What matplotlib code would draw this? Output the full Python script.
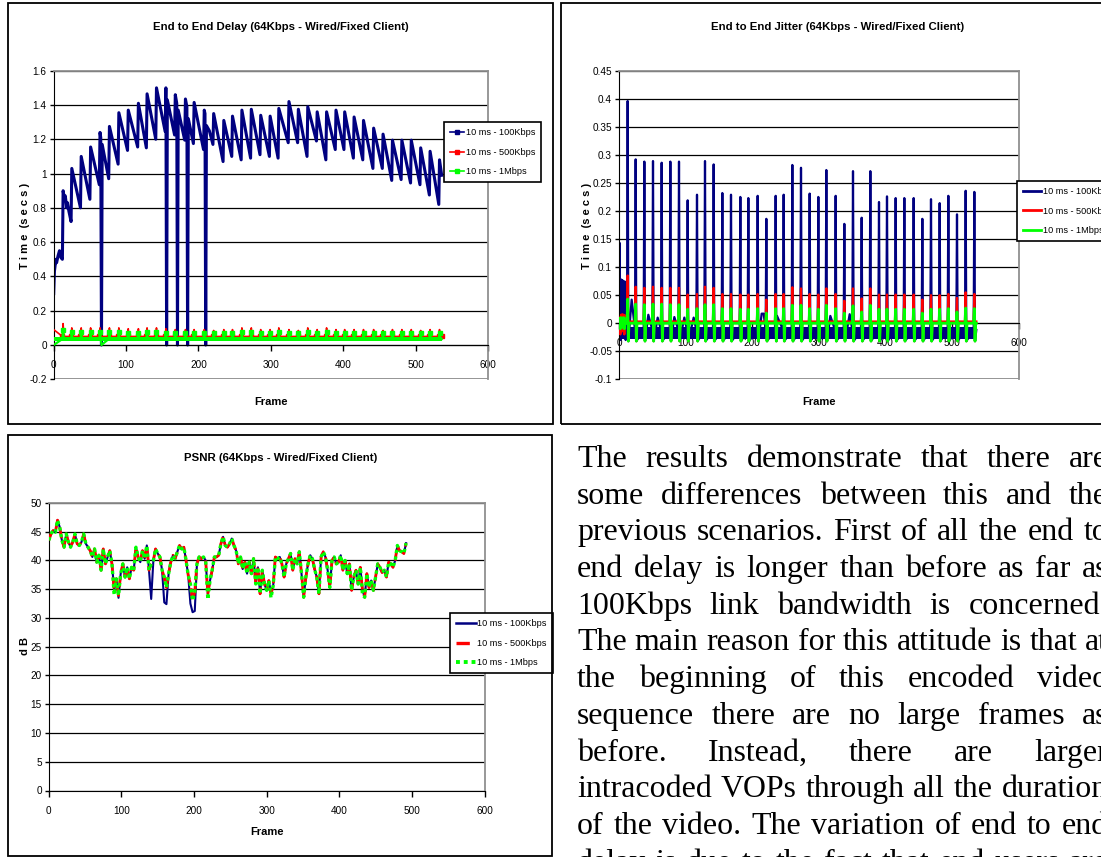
import matplotlib
matplotlib.use("Agg")
import matplotlib.pyplot as plt
from matplotlib.patches import Rectangle
from matplotlib.lines import Line2D
from matplotlib.font_manager import FontProperties

W, H = 1101, 857

# ---- data ----
series_names = ["10 ms - 100Kbps", "10 ms - 500Kbps", "10 ms - 1Mbps"]
navy, red, lime = "#000080", "#FF0000", "#00FF00"

# frames where a large intracoded frame arrives (sawtooth peaks / jitter spikes)
peak_frames = [13, 25, 38, 51, 64, 77, 90, 103, 117, 129, 142, 155, 168, 182, 194, 208,
               221, 235, 247, 260, 273, 286, 299, 311, 325, 338, 351, 364, 377, 390, 402,
               415, 428, 442, 455, 468, 481, 494, 507, 520, 533]

# end to end delay, 100Kbps (vertices of the sawtooth)
delay_100k_frame = [0, 1, 3, 4, 6, 8, 10, 12, 13, 15, 16, 18, 19, 21, 24,
                    25, 37, 38, 50, 51, 63, 64, 65, 66, 67, 76,
                    77, 89, 90, 102, 103, 116, 117, 128, 129, 141, 142, 154,
                    155, 156, 157, 167, 168, 170, 171, 172, 181, 182, 184, 185, 186, 193,
                    194, 207, 208, 209, 210, 211, 215, 220, 221, 234, 235, 246, 247, 259,
                    260, 272, 273, 285, 286, 298, 299, 310, 311, 324, 325, 337,
                    338, 350, 351, 363, 364, 376, 377, 389, 390, 401, 402, 414,
                    415, 427, 428, 441, 442, 454, 455, 467, 468, 480, 481, 493,
                    494, 506, 507, 519, 520, 532, 533, 536]
delay_100k_value = [0.30, 0.43, 0.50, 0.48, 0.52, 0.55, 0.51, 0.50, 0.90, 0.85, 0.87, 0.80, 0.83, 0.78, 0.72,
                    1.03, 0.80, 1.10, 0.85, 1.155, 0.935, 1.24, 1.21, 0.0, 1.17, 0.97,
                    1.275, 1.055, 1.355, 1.135, 1.37, 1.155, 1.41, 1.15, 1.465, 1.20, 1.50, 1.245,
                    1.50, 0.0, 1.43, 1.225, 1.46, 1.41, 0.0, 1.37, 1.195, 1.435, 1.39, 0.0, 1.32, 1.175,
                    1.415, 1.14, 1.37, 1.35, 0.0, 1.28, 1.25, 1.17, 1.35, 1.07, 1.31, 1.10, 1.335, 1.08,
                    1.37, 1.09, 1.375, 1.11, 1.34, 1.10, 1.335, 1.09, 1.38, 1.18, 1.42, 1.18,
                    1.375, 1.10, 1.39, 1.19, 1.36, 1.08, 1.36, 1.14, 1.37, 1.14, 1.36, 1.09,
                    1.33, 1.08, 1.31, 1.03, 1.265, 1.03, 1.23, 0.96, 1.195, 0.965, 1.195, 0.945,
                    1.195, 0.935, 1.15, 0.875, 1.13, 0.82, 1.08, 0.99]

delay_500k_base = 0.05
delay_500k_peak = [0.125, 0.10, 0.10, 0.10, 0.10, 0.10, 0.10, 0.095, 0.095, 0.10,
                   0.10, 0.095, 0.09, 0.09, 0.09, 0.09, 0.085, 0.09, 0.09, 0.10,
                   0.10, 0.09, 0.09, 0.10, 0.09, 0.085, 0.10, 0.09, 0.10, 0.09,
                   0.09, 0.09, 0.09, 0.09, 0.085, 0.09, 0.09, 0.09, 0.085, 0.09, 0.09]
delay_1m_base = 0.035
delay_1m_band = (0.022, 0.047)
delay_1m_peak = [0.09, 0.075, 0.075, 0.075, 0.075, 0.075, 0.075, 0.072, 0.072, 0.075,
                 0.075, 0.072, 0.07, 0.07, 0.07, 0.07, 0.068, 0.07, 0.07, 0.075,
                 0.075, 0.07, 0.07, 0.075, 0.07, 0.068, 0.075, 0.07, 0.075, 0.07,
                 0.07, 0.07, 0.07, 0.07, 0.068, 0.07, 0.07, 0.07, 0.068, 0.07, 0.07]
delay_1m_zero_frames = [0, 66]

# end to end jitter
jit_early_frame = [0, 1, 2, 3, 4, 5, 6, 7, 8, 9, 10, 11, 12]
jit_100k_early = [0.0, 0.143, -0.03, 0.078, -0.02, 0.077, -0.025, 0.075, -0.02, 0.074, -0.03, 0.005, -0.02]
jit_500k_early = [0.0, 0.010, -0.02, 0.015, -0.015, 0.016, -0.01, 0.015, -0.02, 0.014, 0.0, 0.005, 0.003]
jit_1m_early = [0.0, 0.008, -0.01, 0.010, -0.008, 0.009, -0.006, 0.010, -0.01, 0.008, 0.0, 0.004, 0.0]
jit_100k_peak = [0.396, 0.292, 0.288, 0.289, 0.286, 0.288, 0.288, 0.219, 0.229, 0.289,
                 0.283, 0.232, 0.229, 0.225, 0.223, 0.227, 0.186, 0.227, 0.229, 0.282,
                 0.277, 0.231, 0.225, 0.273, 0.227, 0.177, 0.271, 0.188, 0.271, 0.216,
                 0.226, 0.223, 0.223, 0.223, 0.186, 0.221, 0.214, 0.227, 0.194, 0.236, 0.234]
jit_500k_peak = [0.085, 0.065, 0.063, 0.065, 0.063, 0.063, 0.063, 0.051, 0.052, 0.065,
                 0.063, 0.052, 0.052, 0.051, 0.051, 0.052, 0.042, 0.052, 0.052, 0.064,
                 0.062, 0.052, 0.051, 0.062, 0.052, 0.040, 0.062, 0.044, 0.062, 0.051,
                 0.051, 0.051, 0.051, 0.051, 0.042, 0.050, 0.050, 0.052, 0.045, 0.055, 0.052]
jit_1m_peak = [0.043, 0.034, 0.033, 0.034, 0.034, 0.033, 0.033, 0.025, 0.026, 0.033,
               0.033, 0.026, 0.026, 0.025, 0.025, 0.026, 0.018, 0.026, 0.026, 0.032,
               0.032, 0.026, 0.025, 0.032, 0.026, 0.018, 0.031, 0.020, 0.032, 0.025,
               0.025, 0.025, 0.025, 0.025, 0.018, 0.025, 0.025, 0.026, 0.020, 0.027, 0.026]
jit_100k_bump_frame = [19, 44, 58, 83, 98, 112, 214, 217, 237, 317, 346]
jit_100k_bump = [0.042, 0.015, 0.010, 0.011, 0.010, 0.010, 0.017, 0.017, 0.013, 0.013, 0.016]
jit_100k_base = -0.012
jit_100k_band = (-0.029, -0.006)
jit_dip = -0.032
jit_500k_base = 0.003
jit_1m_base = 0.0
jit_last_frame = 536

# PSNR, every third frame (500Kbps trace; the others differ only where listed)
psnr_500k = [43.5, 44.6, 45.2, 44.9, 47.0, 45.8, 43.5, 42.3, 44.6, 43.2, 42.3, 43.2, 44.6, 42.9,
             42.6, 43.2, 44.6, 42.9, 42.3, 41.7, 40.6, 42.0, 39.7, 40.9, 38.3, 42.0, 39.4, 40.6,
             41.7, 39.4, 34.8, 36.8, 33.9, 37.7, 39.4, 37.1, 38.8, 36.8, 38.8, 38.3, 42.3, 40.6,
             39.7, 41.7, 40.3, 42.6, 38.3, 39.4, 40.0, 42.0, 41.2, 40.6, 38.3, 37.1, 35.3, 37.7,
             39.7, 40.9, 40.3, 41.5, 42.6, 42.0, 42.3, 40.0, 37.4, 35.9, 33.0, 34.5, 39.4, 40.6,
             40.3, 40.6, 40.0, 34.2, 36.5, 38.3, 40.6, 40.6, 40.9, 42.9, 44.1, 42.6, 42.3, 42.9,
             43.8, 42.6, 41.7, 39.4, 40.6, 38.5, 39.7, 37.7, 39.7, 37.7, 40.3, 35.9, 38.8, 34.2,
             38.3, 35.9, 34.8, 36.5, 34.2, 35.6, 40.6, 40.3, 40.6, 39.4, 37.1, 39.4, 40.3, 41.2,
             38.3, 40.3, 39.4, 41.5, 37.7, 33.6, 37.1, 39.4, 40.9, 40.3, 38.5, 37.1, 34.2, 40.6,
             41.5, 40.6, 38.3, 35.3, 40.0, 40.6, 39.4, 39.7, 40.9, 38.3, 40.0, 37.7, 39.4, 34.8,
             37.1, 38.3, 35.9, 38.8, 34.8, 33.6, 37.7, 35.3, 36.5, 34.8, 37.1, 39.4, 38.8, 37.9,
             38.3, 37.1, 39.7, 39.4, 38.8, 40.0, 42.6, 41.7, 41.5, 41.2, 43.0]
psnr_100k_diff = {96: 33.5, 141: 33.3, 159: 32.7, 162: 32.4, 195: 32.5, 198: 31.0, 201: 31.2}
psnr_1m_diff = {90: 34.0, 219: 33.2, 306: 33.5, 432: 34.0}

# paragraph on the right of the PSNR chart
para_lines = [
    "The results demonstrate that there are",
    "some differences between this and the",
    "previous scenarios. First of all the end to",
    "end delay is longer than before as far as",
    "100Kbps link bandwidth is concerned.",
    "The main reason for this attitude is that at",
    "the beginning of this encoded video",
    "sequence there are no large frames as",
    "before. Instead, there are larger",
    "intracoded VOPs through all the duration",
    "of the video. The variation of end to end",
    "delay is due to the fact that end users are",
]

# ---- build the traces ----
def spiky(early_x, early_y, peaks, base, after, last):
    xs, ys = list(early_x), list(early_y)
    for f, p in zip(peak_frames, peaks):
        xs += [f - 1, f, f + 1]
        ys += [base, p, after]
    xs.append(last)
    ys.append(base)
    return xs, ys

d500_x, d500_y = spiky([0], [0.09], delay_500k_peak, delay_500k_base, delay_500k_base, 536)
d1m_pts = {}
for f, p in zip(peak_frames, delay_1m_peak):
    d1m_pts[f - 1] = delay_1m_base
    d1m_pts[f] = p
    d1m_pts[f + 1] = delay_1m_base
for f in delay_1m_zero_frames:
    d1m_pts[f] = 0.0
d1m_pts[536] = delay_1m_base
d1m_x = sorted(d1m_pts)
d1m_y = [d1m_pts[f] for f in d1m_x]

j100_pts = dict(zip(jit_early_frame, jit_100k_early))
for f, p in zip(peak_frames, jit_100k_peak):
    j100_pts[f - 1] = jit_100k_base
    j100_pts[f] = p
    j100_pts[f + 1] = jit_dip
for f, v in zip(jit_100k_bump_frame, jit_100k_bump):
    j100_pts[f] = v
j100_pts[jit_last_frame] = jit_100k_base
j100_x = sorted(j100_pts)
j100_y = [j100_pts[f] for f in j100_x]


def jit_trace(early, peaks, base):
    pts = dict(zip(jit_early_frame, early))
    for f, p in zip(peak_frames, peaks):
        pts[f - 1] = base
        pts[f] = p
        pts[f + 1] = jit_dip
        pts[f + 2] = base
    pts[jit_last_frame] = base
    xs = sorted(pts)
    return xs, [pts[f] for f in xs]


j500_x, j500_y = jit_trace(jit_500k_early, jit_500k_peak, jit_500k_base)
j1m_x, j1m_y = jit_trace(jit_1m_early, jit_1m_peak, jit_1m_base)

psnr_frames = list(range(0, 3 * len(psnr_500k), 3))
psnr_100k = list(psnr_500k)
for f, v in psnr_100k_diff.items():
    psnr_100k[f // 3] = v
psnr_1m = list(psnr_500k)
for f, v in psnr_1m_diff.items():
    psnr_1m[f // 3] = v

# ---- figure ----
plt.rcParams['font.family'] = ['Liberation Sans', 'DejaVu Sans']
fig = plt.figure(figsize=(W / 100, H / 100), dpi=100)
fig.patch.set_facecolor('white')


def px_rect(l, t, r, b):
    return [l / W, 1 - b / H, (r - l) / W, (b - t) / H]


def fx(x):
    return x / W


def fy(y):
    return 1 - y / H


# panel frames
for l, t, r, b in [(8, 3, 553, 424), (561, 3, 1115, 424), (8, 435, 552, 856)]:
    fig.patches.append(Rectangle((fx(l), fy(b)), (r - l) / W, (b - t) / H,
                                 transform=fig.transFigure, fill=False,
                                 edgecolor='black', lw=1.3))


def style_axes(ax, ymin, ymax, yticks, ylabels, cross_zero):
    ax.set_xlim(0, 600)
    ax.set_ylim(ymin, ymax)
    ax.set_xticks(range(0, 601, 100))
    ax.set_xticklabels([str(v) for v in range(0, 601, 100)])
    ax.set_yticks(yticks)
    ax.set_yticklabels(ylabels)
    ax.set_axisbelow(True)
    ax.grid(axis='y', color='black', lw=0.9)
    ax.grid(axis='x', visible=False)
    ax.spines['top'].set_color('#909090')
    ax.spines['right'].set_color('#909090')
    ax.spines['top'].set_linewidth(1.3)
    ax.spines['right'].set_linewidth(1.3)
    ax.spines['left'].set_color('black')
    ax.spines['bottom'].set_color('black')
    if cross_zero:
        ax.spines['bottom'].set_position(('data', 0))
        ax.axhline(ymin, color='#909090', lw=1.3, zorder=0.6)
    ax.tick_params(axis='y', direction='out', length=3, width=1, pad=2, labelsize=7.2)
    ax.tick_params(axis='x', direction='out', length=4, width=1, pad=7, labelsize=7.2)


title_kw = dict(ha='center', va='center', fontsize=8.2, fontweight='bold')
label_kw = dict(ha='center', va='center', fontsize=8, fontweight='bold')
leg_prop = FontProperties(family=['Liberation Sans', 'DejaVu Sans'], size=6.6)
leg_kw = dict(loc='upper left', bbox_transform=fig.transFigure, borderaxespad=0, fancybox=False,
              edgecolor='black', framealpha=1, prop=leg_prop, labelspacing=1.15, borderpad=0.65)

# --- panel 1: delay ---
ax1 = fig.add_axes(px_rect(53.7, 70.7, 488, 379.3))
style_axes(ax1, -0.2, 1.6, [-0.2, 0, 0.2, 0.4, 0.6, 0.8, 1.0, 1.2, 1.4, 1.6],
           ['-0.2', '0', '0.2', '0.4', '0.6', '0.8', '1', '1.2', '1.4', '1.6'], True)
ax1.plot(delay_100k_frame, delay_100k_value, color=navy, lw=2.2, zorder=2)
ax1.plot(d500_x, d500_y, color=red, lw=1.2, zorder=3)
ax1.plot(d500_x[1::3], d500_y[1::3], ls='none', marker='s', ms=2.5, color=red, zorder=3)
ax1.fill_between([0, 536], delay_1m_band[0], delay_1m_band[1], color=lime, lw=0, zorder=4)
ax1.plot(d1m_x, d1m_y, color=lime, lw=1.6, zorder=4)
ax1.plot(peak_frames, delay_1m_peak, ls='none', marker='s', ms=2.5, color=lime, zorder=4)
fig.text(fx(280.5), fy(26.7), "End to End Delay (64Kbps - Wired/Fixed Client)", **title_kw)
fig.text(fx(270.8), fy(402), "Frame", **label_kw)
fig.text(fx(24.7), fy(226), "T i m e  (s e c s )", rotation=90, **label_kw)
h1 = [Line2D([], [], color=c, lw=1.2, marker='s', ms=2.5) for c in (navy, red, lime)]
leg1 = ax1.legend(h1, series_names, bbox_to_anchor=(fx(444), fy(122.3)),
                  handlelength=1.5, handletextpad=0.2, **leg_kw)
leg1.get_frame().set_linewidth(1.2)

# --- panel 2: jitter ---
ax2 = fig.add_axes(px_rect(619, 70.7, 1019, 379.3))
style_axes(ax2, -0.1, 0.45, [-0.1, -0.05, 0, 0.05, 0.1, 0.15, 0.2, 0.25, 0.3, 0.35, 0.4, 0.45],
           ['-0.1', '-0.05', '0', '0.05', '0.1', '0.15', '0.2', '0.25', '0.3', '0.35', '0.4', '0.45'], True)
ax2.fill_between([1, jit_last_frame], jit_100k_band[0], jit_100k_band[1], color=navy, lw=0, zorder=2)
ax2.plot(j100_x, j100_y, color=navy, lw=1.6, zorder=2)
ax2.plot(j500_x, j500_y, color=red, lw=1.6, zorder=3)
ax2.plot(j1m_x, j1m_y, color=lime, lw=2.0, zorder=4)
fig.text(fx(838), fy(26.7), "End to End Jitter (64Kbps - Wired/Fixed Client)", **title_kw)
fig.text(fx(819), fy(402), "Frame", **label_kw)
fig.text(fx(586.8), fy(226), "T i m e  (s e c s )", rotation=90, **label_kw)
h2 = [Line2D([], [], color=c, lw=2.0) for c in (navy, red, lime)]
leg2 = ax2.legend(h2, series_names, bbox_to_anchor=(fx(1017.2), fy(181)),
                  handlelength=2.0, handletextpad=0.15, **leg_kw)
leg2.get_frame().set_linewidth(1.2)

# --- panel 3: PSNR ---
ax3 = fig.add_axes(px_rect(48.8, 502.9, 484.5, 790.5))
style_axes(ax3, 0, 50, list(range(0, 51, 5)), [str(v) for v in range(0, 51, 5)], False)
ax3.plot(psnr_frames, psnr_100k, color=navy, lw=1.5, zorder=2)
ax3.plot(psnr_frames, psnr_500k, color=red, lw=2.0, dashes=(4, 2), zorder=3)
ax3.plot(psnr_frames, psnr_1m, color=lime, lw=2.4, dashes=(1, 1), dash_capstyle='butt', zorder=4)
fig.text(fx(280.5), fy(458.3), "PSNR (64Kbps - Wired/Fixed Client)", **title_kw)
fig.text(fx(266.7), fy(832.3), "Frame", **label_kw)
fig.text(fx(24.7), fy(646), "d B", rotation=90, **label_kw)
h3 = [Line2D([], [], color=navy, lw=1.8),
      Line2D([], [], color=red, lw=2.4, dashes=(4, 2)),
      Line2D([], [], color=lime, lw=2.8, dashes=(1, 1), dash_capstyle='butt')]
leg3 = ax3.legend(h3, series_names, bbox_to_anchor=(fx(449.8), fy(613.3)),
                  handlelength=2.2, handletextpad=0.15, **leg_kw)
leg3.get_frame().set_linewidth(1.2)

# --- justified paragraph ---
para_left, para_right = 577, 1108
para_base0, para_step = 467, 36.7
renderer = fig.canvas.get_renderer()
probe = FontProperties(family=['Liberation Serif', 'DejaVu Serif'], size=18)
natural = max(renderer.get_text_width_height_descent(para_lines[k], probe, ismath=False)[0]
              for k in (2, 5, 9, 10))
para_prop = FontProperties(family=['Liberation Serif', 'DejaVu Serif'],
                           size=18 * (para_right - para_left) / natural)
for i, line in enumerate(para_lines):
    words = line.split()
    widths = [renderer.get_text_width_height_descent(w, para_prop, ismath=False)[0] for w in words]
    gap = (para_right - para_left - sum(widths)) / (len(words) - 1)
    x = para_left
    y = para_base0 + i * para_step
    for w, wd in zip(words, widths):
        fig.text(fx(x), fy(y), w, fontproperties=para_prop, ha='left', va='baseline')
        x += wd + gap

fig.savefig("out.png", dpi=100, facecolor='white')
